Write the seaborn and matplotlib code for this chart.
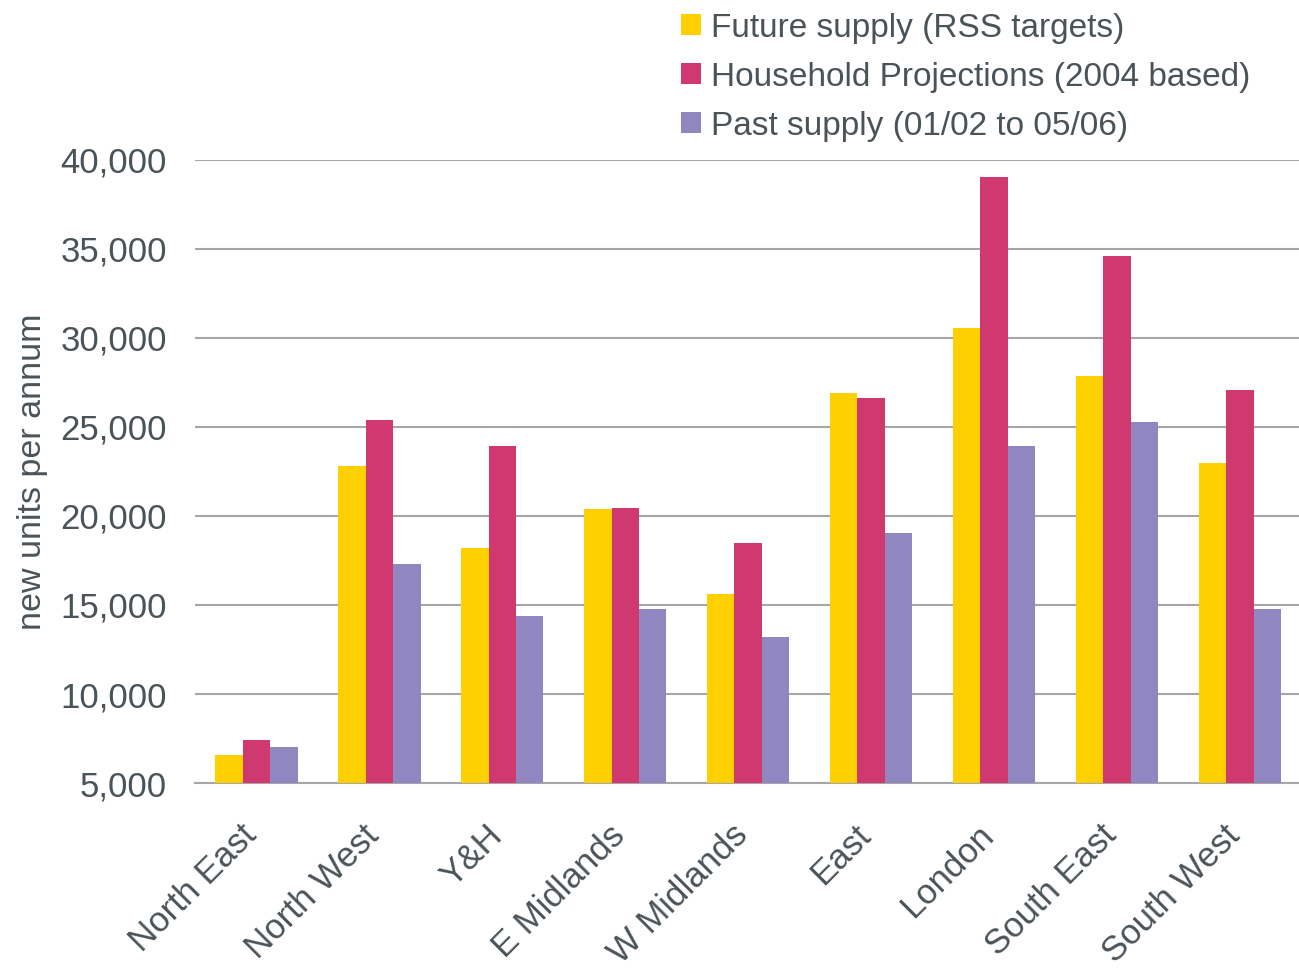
import matplotlib
matplotlib.use("Agg")
import matplotlib.pyplot as plt
import matplotlib.transforms as mtrans
import seaborn as sns
import pandas as pd
from matplotlib.ticker import FuncFormatter

regions = ["North East", "North West", "Y&H", "E Midlands", "W Midlands",
           "East", "London", "South East", "South West"]
future_supply = [6600, 22800, 18200, 20400, 15600, 26900, 30550, 27850, 23000]
household_proj = [7400, 25400, 23900, 20450, 18500, 26600, 39050, 34600, 27050]
past_supply = [7000, 17300, 14400, 14750, 13200, 19050, 23950, 25300, 14750]

series = ["Future supply (RSS targets)", "Household Projections (2004 based)",
          "Past supply (01/02 to 05/06)"]
colores = ["#FFD000", "#D0396F", "#9187C0"]

df = pd.DataFrame({
    "region": regions,
    series[0]: future_supply,
    series[1]: household_proj,
    series[2]: past_supply,
})
df_long = df.melt(id_vars="region", var_name="serie", value_name="valor")

sns.set_style("white")
plt.rcParams["font.family"] = ["Liberation Sans", "DejaVu Sans"]
texto = "#4A5358"

fig = plt.figure(figsize=(12.99, 9.68), dpi=100)
ax = fig.add_axes([0.150, 0.191, 0.852, 0.644])

sns.barplot(
    data=df_long,
    x="region",
    y="valor",
    hue="serie",
    hue_order=series,
    palette=colores,
    width=0.67,
    saturation=1,
    errorbar=None,
    linewidth=0,
    ax=ax,
    zorder=3,
)

ax.set_ylim(5000, 40000)
ax.set_yticks(range(5000, 40001, 5000))
ax.yaxis.set_major_formatter(FuncFormatter(lambda v, p: f"{int(v):,}"))
ax.grid(axis="y", color="#A6A6A6", linewidth=1.5, zorder=0)
ax.set_axisbelow(True)
for lado in ["left", "right", "top"]:
    ax.spines[lado].set_visible(False)
ax.spines["bottom"].set_color("#A6A6A6")
ax.spines["bottom"].set_linewidth(1.5)

ax.tick_params(axis="y", length=0, pad=20, labelsize=25, labelcolor=texto)
ax.tick_params(axis="x", length=0, pad=22, labelsize=25, labelcolor=texto)
# etiquetas giradas, un poco corridas a la izquierda como en el original
desplazo = mtrans.ScaledTranslation(-0.17, -0.05, fig.dpi_scale_trans)
for etiqueta in ax.get_xticklabels():
    etiqueta.set_rotation(45)
    etiqueta.set_ha("right")
    etiqueta.set_rotation_mode("anchor")
    etiqueta.set_transform(etiqueta.get_transform() + desplazo)

ax.set_xlabel("")
ax.set_ylabel("new units per annum", fontsize=24.5, color=texto, labelpad=9)

handles, labels = ax.get_legend_handles_labels()
ax.legend_.remove()
fig.legend(handles, labels, loc="upper left", bbox_to_anchor=(0.510, 1.006),
           frameon=False, fontsize=24, labelcolor=texto, handlelength=0.6,
           handleheight=0.6, handletextpad=0.3, labelspacing=0.54,
           borderaxespad=0.15)

fig.savefig("out.png", dpi=100)
